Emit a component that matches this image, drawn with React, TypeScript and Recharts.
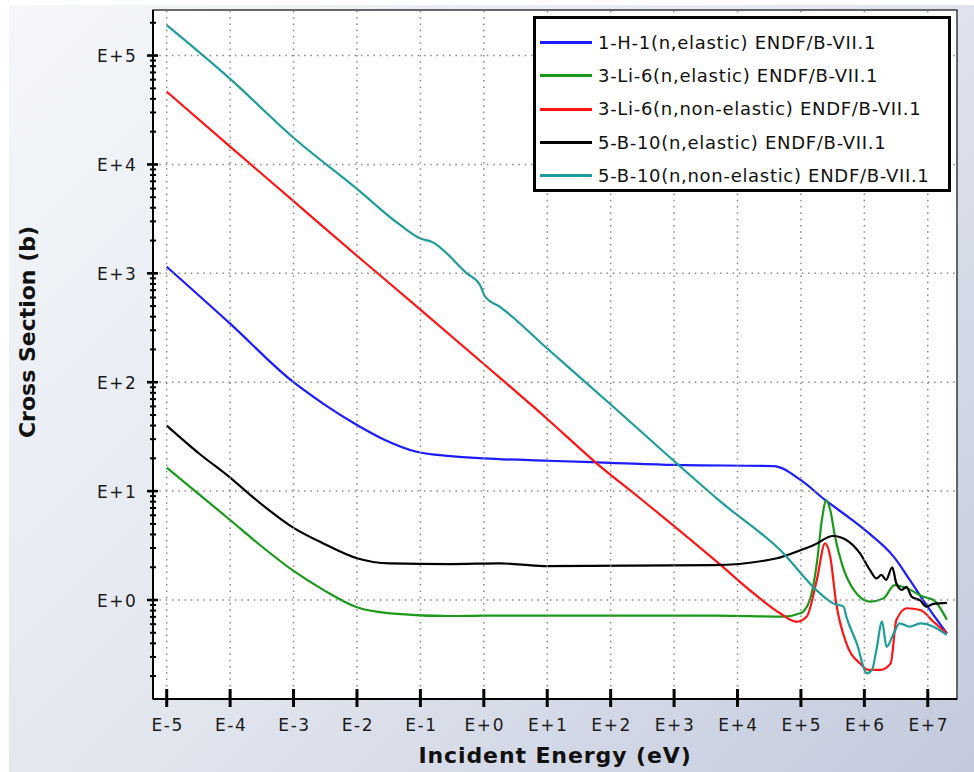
import React from 'react';
import { LineChart, Line, XAxis, YAxis, ReferenceArea, Legend } from 'recharts';

// incident energy (eV) / cross section (b)
const H1_E = [1e-5, 1e-4, 1e-3, 3e-3, 1e-2, 2.6e-2, 8.7e-2, 0.3, 1, 10, 100, 1e3, 3.7e4, 1e5, 2.4e5, 6e5, 1.1e6, 2.9e6, 5.2e6, 9.5e6, 2e7];
const H1_S = [1150, 345, 100, 63, 40.5, 30, 23, 21, 20, 19, 18.2, 17.4, 17, 12.6, 8.3, 5.6, 4.24, 2.5, 1.53, 0.9, 0.494];

const LI6_EL_E = [1e-5, 3.35e-5, 1e-4, 2.95e-4, 1e-3, 2.95e-3, 1e-2, 3.3e-2, 0.3, 1, 4.7e3, 5.2e4, 9.8e4, 1.38e5, 1.78e5, 2.14e5, 2.5e5, 2.9e5, 3.45e5, 4.4e5, 6.8e5, 1.23e6, 2e6, 3e6, 4.7e6, 8.5e6, 1.23e7, 2e7];
const LI6_EL_S = [16.4, 9.2, 5.43, 3.2, 1.85, 1.24, 0.857, 0.755, 0.713, 0.72, 0.718, 0.703, 0.755, 1.0, 2.17, 5.43, 8.17, 6.7, 3.81, 2.17, 1.24, 0.966, 1.035, 1.37, 1.28, 1.07, 1.0, 0.66];

const LI6_NE_E = [1e-5, 1e-4, 1e-3, 1e-2, 0.1, 1, 10, 60, 290, 5.4e3, 1.8e4, 4.7e4, 8.5e4, 1.23e5, 1.78e5, 2.4e5, 2.9e5, 3.6e5, 5.2e5, 8.5e5, 1.15e6, 1.8e6, 2.6e6, 3.2e6, 4.7e6, 7.6e6, 1.23e7, 2e7];
const LI6_NE_S = [4.66e4, 1.46e4, 4.6e3, 1.45e3, 465, 147, 46, 18, 8.6, 2.1, 1.15, 0.755, 0.632, 0.703, 1.53, 3.31, 2.5, 0.933, 0.4, 0.262, 0.228, 0.228, 0.262, 0.655, 0.84, 0.81, 0.632, 0.494];

const B10_EL_E = [1e-5, 3.35e-5, 1e-4, 2.04e-4, 1e-3, 2.95e-3, 1e-2, 3.3e-2, 0.3, 1.8, 8.7, 4.2e3, 4.2e4, 1e5, 1.6e5, 3.2e5, 5.2e5, 8.5e5, 1.23e6, 1.55e6, 1.86e6, 2.2e6, 2.75e6, 3.2e6, 3.9e6, 4.6e6, 5.6e6, 7.6e6, 9.5e6, 1.23e7, 2e7];
const B10_EL_S = [40, 21.8, 13.3, 9.3, 4.6, 3.31, 2.42, 2.17, 2.14, 2.17, 2.05, 2.09, 2.42, 2.88, 3.2, 3.87, 3.56, 2.69, 1.88, 1.58, 1.7, 1.53, 2.0, 1.42, 1.24, 1.32, 1.07, 0.99, 0.87, 0.92, 0.94];

const B10_NE_E = [1e-5, 1e-4, 1e-3, 1e-2, 4.8e-2, 0.1, 0.15, 0.54, 0.87, 1.05, 1.8, 10, 110, 1.17e3, 5.4e3, 4.7e4, 2e5, 3.2e5, 4.7e5, 5.2e5, 7.6e5, 1.1e6, 1.32e6, 1.55e6, 1.9e6, 2.24e6, 2.9e6, 3.6e6, 5.2e6, 7.6e6, 1.23e7, 2e7];
const B10_NE_S = [1.9e5, 6.1e4, 1.76e4, 5.96e3, 2.78e3, 2.09e3, 1.95e3, 1.0e3, 782, 610, 493, 204, 59.6, 17.4, 8.0, 2.88, 1.15, 0.933, 0.87, 0.703, 0.4, 0.212, 0.228, 0.348, 0.632, 0.372, 0.494, 0.611, 0.569, 0.611, 0.569, 0.478];

const X_TICKS = [1e-5, 1e-4, 1e-3, 1e-2, 1e-1, 1, 1e1, 1e2, 1e3, 1e4, 1e5, 1e6, 1e7];
const Y_TICKS = [1, 1e1, 1e2, 1e3, 1e4, 1e5];
const Y_MINOR = [
  0.2, 0.3, 0.4, 0.5, 0.6, 0.7, 0.8, 0.9,
  2, 3, 4, 5, 6, 7, 8, 9,
  20, 30, 40, 50, 60, 70, 80, 90,
  200, 300, 400, 500, 600, 700, 800, 900,
  2e3, 3e3, 4e3, 5e3, 6e3, 7e3, 8e3, 9e3,
  2e4, 3e4, 4e4, 5e4, 6e4, 7e4, 8e4, 9e4,
  2e5,
];
const X_DOMAIN = [6.08e-6, 2.89e7];
const Y_DOMAIN = [0.1233, 2.62e5];

const zip = (e: number[], s: number[]) => e.map((v, i) => ({ e: v, s: s[i] }));

const SERIES = [
  { name: '1-H-1(n,elastic) ENDF/B-VII.1', color: '#1c1cff', data: zip(H1_E, H1_S) },
  { name: '3-Li-6(n,elastic) ENDF/B-VII.1', color: '#1a9a1a', data: zip(LI6_EL_E, LI6_EL_S) },
  { name: '3-Li-6(n,non-elastic) ENDF/B-VII.1', color: '#ff1414', data: zip(LI6_NE_E, LI6_NE_S) },
  { name: '5-B-10(n,elastic) ENDF/B-VII.1', color: '#000000', data: zip(B10_EL_E, B10_EL_S) },
  { name: '5-B-10(n,non-elastic) ENDF/B-VII.1', color: '#1f9c9c', data: zip(B10_NE_E, B10_NE_S) },
];

const W = 974;
const H = 772;
const MARGIN = { top: 10, right: 17, bottom: 72, left: 151 };
// plot box (each axis is 1px wide/high)
const PLOT = { left: MARGIN.left + 2, top: MARGIN.top, right: W - MARGIN.right, bottom: H - MARGIN.bottom - 1 };

const FONT = '"DejaVu Sans", Verdana, sans-serif';
const GRID = { stroke: '#888', strokeWidth: 1.5, strokeDasharray: '1.5 4.8' };

const fmtExp = (v: number) => {
  const n = Math.round(Math.log10(v));
  return `E${n < 0 ? '-' : '+'}${Math.abs(n)}`;
};

const XTick = (p: any) => (
  <g>
    <line x1={p.x} x2={p.x} y1={p.y} y2={PLOT.top} {...GRID} />
    <line x1={p.x} x2={p.x} y1={p.y - 10} y2={p.y + 8} stroke="#000" strokeWidth={3} />
    <text x={p.x + 1} y={p.y + 32} textAnchor="middle" fontFamily={FONT} fontSize={17} letterSpacing={1.6} fill="#1a1a1a">
      {fmtExp(p.payload.value)}
    </text>
  </g>
);

const YTick = (p: any) => (
  <g>
    <line x1={p.x} x2={PLOT.right} y1={p.y} y2={p.y} {...GRID} />
    <line x1={p.x - 6} x2={p.x + 5} y1={p.y} y2={p.y} stroke="#000" strokeWidth={2.6} />
    <text x={p.x - 15.5} y={p.y + 6.5} textAnchor="end" fontFamily={FONT} fontSize={17} letterSpacing={1.6} fill="#1a1a1a">
      {fmtExp(p.payload.value)}
    </text>
  </g>
);

// minor axis sits 1px left of the main one
const MinorTick = (p: any) => (
  <line x1={p.x - 2} x2={p.x + 4} y1={p.y} y2={p.y} stroke="#000" strokeWidth={2} />
);

const XTitle = (p: any) => {
  const vb = p.viewBox;
  return (
    <text x={vb.x + vb.width / 2} y={vb.y + 64} textAnchor="middle" fontFamily={FONT} fontWeight="bold" fontSize={22} letterSpacing={0.9} fill="#111">
      Incident Energy (eV)
    </text>
  );
};

const YTitle = (p: any) => {
  const vb = p.viewBox;
  const x = vb.x + vb.width - 118;
  const y = vb.y + 322;
  return (
    <text x={x} y={y} transform={`rotate(-90, ${x}, ${y})`} textAnchor="middle" fontFamily={FONT} fontWeight="bold" fontSize={22} fill="#111">
      Cross Section (b)
    </text>
  );
};

const LegendBox = (props: any) => (
  <div
    style={{
      boxSizing: 'border-box',
      width: 418,
      height: 176,
      border: '3px solid #000',
      background: '#fff',
      padding: '7px 0 0 4px',
      fontFamily: FONT,
      fontSize: 18,
      letterSpacing: 0.7,
      color: '#111',
    }}
  >
    {(props.payload || []).map((entry: any) => (
      <div key={entry.value} style={{ display: 'flex', alignItems: 'center', height: 33.3 }}>
        <span style={{ display: 'inline-block', width: 52, height: 3, background: entry.color, marginRight: 6 }} />
        <span style={{ whiteSpace: 'nowrap', lineHeight: '20px' }}>{entry.value}</span>
      </div>
    ))}
  </div>
);

export default function App() {
  return (
    <div style={{ position: 'absolute', left: 0, top: 0, width: W, height: H, background: '#fff' }}>
      <div
        style={{
          position: 'absolute',
          left: 9,
          top: 5,
          right: 0,
          bottom: 0,
          background: 'linear-gradient(135deg, #f5f7fa 0%, #e2e6ef 50%, #c2cadc 100%)',
        }}
      />
      {/* white plot background */}
      <div
        style={{
          position: 'absolute',
          left: PLOT.left,
          top: PLOT.top,
          width: PLOT.right - PLOT.left,
          height: PLOT.bottom - PLOT.top,
          background: '#fff',
        }}
      />
      <div style={{ position: 'absolute', left: 0, top: 0 }}>
        <LineChart width={W} height={H} margin={MARGIN}>
          <XAxis
            dataKey="e"
            type="number"
            scale="log"
            domain={X_DOMAIN}
            allowDataOverflow
            ticks={X_TICKS}
            interval={0}
            height={1}
            tickSize={0}
            tickMargin={0}
            tickLine={false}
            axisLine={{ stroke: '#000', strokeWidth: 2 }}
            tick={(p: any) => <XTick {...p} />}
            label={(p: any) => <XTitle {...p} />}
          />
          <YAxis
            type="number"
            scale="log"
            domain={Y_DOMAIN}
            allowDataOverflow
            ticks={Y_TICKS}
            interval={0}
            width={1}
            tickSize={0}
            tickMargin={0}
            tickLine={false}
            axisLine={{ stroke: '#000', strokeWidth: 2 }}
            tick={(p: any) => <YTick {...p} />}
            label={(p: any) => <YTitle {...p} />}
          />
          <YAxis
            yAxisId="minor"
            type="number"
            scale="log"
            domain={Y_DOMAIN}
            allowDataOverflow
            ticks={Y_MINOR}
            interval={0}
            width={1}
            tickSize={0}
            tickMargin={0}
            tickLine={false}
            axisLine={false}
            tick={(p: any) => <MinorTick {...p} />}
          />
          <ReferenceArea
            x1={X_DOMAIN[0]}
            x2={X_DOMAIN[1]}
            y1={Y_DOMAIN[0]}
            y2={Y_DOMAIN[1]}
            fill="none"
            stroke="#3a3a3a"
            strokeWidth={1.5}
            ifOverflow="visible"
          />
          {SERIES.map((s) => (
            <Line
              key={s.name}
              name={s.name}
              data={s.data}
              dataKey="s"
              type="monotoneX"
              stroke={s.color}
              strokeWidth={2.2}
              dot={false}
              activeDot={false}
              isAnimationActive={false}
            />
          ))}
          <Legend
            layout="horizontal"
            verticalAlign="middle"
            align="center"
            wrapperStyle={{ left: 533, top: 16, width: 418, height: 176 }}
            content={(p: any) => <LegendBox {...p} />}
          />
        </LineChart>
      </div>
    </div>
  );
}
